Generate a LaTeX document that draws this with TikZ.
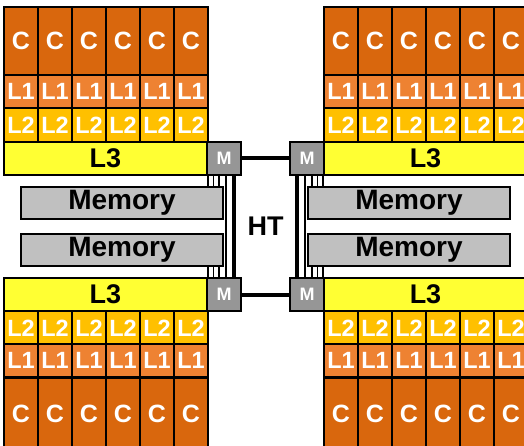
\documentclass[tikz,border=0pt]{standalone}
\usepackage{fontspec}
\setmainfont{Liberation Sans}
\usetikzlibrary{calc}
\definecolor{corec}{RGB}{217,103,13}
\definecolor{lonec}{RGB}{238,130,50}
\definecolor{ltwoc}{RGB}{255,192,0}
\definecolor{lthreec}{RGB}{255,255,51}
\definecolor{ctrlc}{RGB}{150,150,150}
\definecolor{memc}{RGB}{192,192,192}
\begin{document}
\begin{tikzpicture}[x=1pt, y=-1pt,
        cell/.style = {draw, line width=1.6pt, inner sep=0pt, outer sep=0pt, anchor=north west, minimum width=34pt, text=white, font=\bfseries\fontsize{23.5}{23.5}\selectfont},
        core/.style = {cell, fill=corec, minimum height=68pt, font=\bfseries\fontsize{25}{25}\selectfont},
        lone/.style = {cell, fill=lonec, minimum height=33pt},
        ltwo/.style = {cell, fill=ltwoc, minimum height=34pt},
        lthree/.style = {draw, line width=1.6pt, fill=lthreec, inner sep=0pt, outer sep=0pt, anchor=north west, minimum width=203pt, minimum height=33pt, font=\bfseries\fontsize{27}{27}\selectfont},
        ctrl/.style = {draw, line width=1.3pt, fill=ctrlc, inner sep=0pt, outer sep=0pt, anchor=north west, minimum width=34pt, minimum height=33pt, text=white, font=\bfseries\fontsize{18}{18}\selectfont},
        mem/.style = {draw, line width=1.6pt, fill=memc, inner sep=0pt, outer sep=0pt, anchor=north west, minimum width=202pt, minimum height=32pt, font=\bfseries\fontsize{28}{28}\selectfont},
        htlink/.style = {line width=4pt},
        wire/.style = {line width=1.3pt}]
        \useasboundingbox (0,0) rectangle (524,446);
        \foreach \i in {0,...,5} {
            \node[core] (tlc\i) at (4+34*\i,7) {C};
            \node[lone] (tlone\i) at (4+34*\i,75) {L1};
            \node[ltwo] (tltwo\i) at (4+34*\i,108) {L2};
            \node[core] (trc\i) at (324+34*\i,7) {C};
            \node[lone] (trone\i) at (324+34*\i,75) {L1};
            \node[ltwo] (trtwo\i) at (324+34*\i,108) {L2};
            \node[ltwo] (bltwo\i) at (4+34*\i,311) {L2};
            \node[lone] (blone\i) at (4+34*\i,344) {L1};
            \node[core, minimum height=72pt] (blc\i) at (4+34*\i,378) {C};
            \node[ltwo] (brtwo\i) at (324+34*\i,311) {L2};
            \node[lone] (brone\i) at (324+34*\i,344) {L1};
            \node[core, minimum height=72pt] (brc\i) at (324+34*\i,378) {C};
        }
        \node[lthree] (tlL3) at (4,142) {L3};
        \node[lthree] (trL3) at (324,142) {L3};
        \node[lthree] (blL3) at (4,278) {L3};
        \node[lthree] (brL3) at (324,278) {L3};
        \node[ctrl] (tlM) at (207,142) {M};
        \node[ctrl] (trM) at (290,142) {M};
        \node[ctrl] (blM) at (207,278) {M};
        \node[ctrl] (brM) at (290,278) {M};
        \node[mem] (memTL) at (21,187) {Memory};
        \node[mem] (memBL) at (21,234) {Memory};
        \node[mem] (memTR) at (308,187) {Memory};
        \node[mem] (memBR) at (308,234) {Memory};
        \node[font=\bfseries\fontsize{27}{27}\selectfont] (ht) at (265.5,226) {HT};
        \draw[htlink] (tlM) -- (trM);
        \draw[htlink] (blM) -- (brM);
        \draw[htlink] ([xshift=-7pt]tlM.south east) -- ([xshift=-7pt]blM.north east);
        \draw[htlink] ([xshift=7pt]trM.south west) -- ([xshift=7pt]brM.north west);
        \draw[wire] ($(tlM.south west)+(19,0)$) -- ($(blM.north west)+(19,0)$);
        \draw[wire] ($(trM.south east)+(-19,0)$) -- ($(brM.north east)+(-19,0)$);
        \foreach \d in {1,6.5,12} {
            \draw[wire] ($(tlM.south west)+(\d,0)$) -- ($(tlM.south west |- memTL.north)+(\d,0)$);
            \draw[wire] ($(blM.north west)+(\d,0)$) -- ($(blM.north west |- memBL.south)+(\d,0)$);
            \draw[wire] ($(trM.south east)+(-\d,0)$) -- ($(trM.south east |- memTR.north)+(-\d,0)$);
            \draw[wire] ($(brM.north east)+(-\d,0)$) -- ($(brM.north east |- memBR.south)+(-\d,0)$);
        }
\end{tikzpicture}
\end{document}
